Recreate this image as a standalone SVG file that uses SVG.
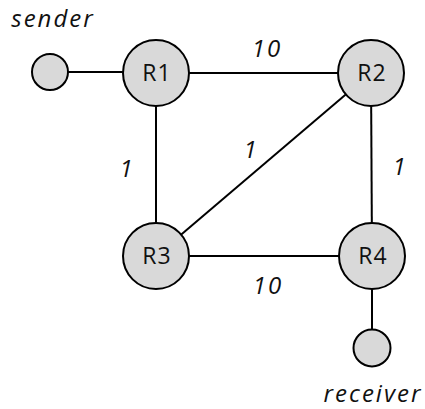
<svg xmlns="http://www.w3.org/2000/svg" width="425" height="409" viewBox="0 0 425 409">
<style>
.n{fill:#d9d9d9;stroke:#000;stroke-width:2}
.e{stroke:#000;stroke-width:2;fill:none}
.t{font-family:"Open Sans","DejaVu Sans",sans-serif;font-size:23px;letter-spacing:1px;text-anchor:middle;fill:#111}
.l{font-family:"Open Sans","DejaVu Sans",sans-serif;font-size:24px;letter-spacing:2px;font-style:italic;text-anchor:middle;fill:#111}
</style>
<rect width="425" height="409" fill="#fff"/>
<g id="connectors">
<line class="e" x1="50" y1="72" x2="156" y2="72"/>
<line class="e" x1="156" y1="73" x2="371" y2="73"/>
<line class="e" x1="156" y1="73" x2="156" y2="256"/>
<line class="e" x1="371" y1="73" x2="372" y2="256"/>
<line class="e" x1="371" y1="73" x2="156" y2="256"/>
<line class="e" x1="156" y1="256" x2="372" y2="256"/>
<line class="e" x1="372" y1="256" x2="372" y2="348"/>
</g>
<g id="sender"><circle class="n" cx="50" cy="72" r="18"/><text class="l" x="53" y="27">sender</text></g>
<g id="R1"><circle class="n" cx="156" cy="73" r="33"/><text class="t" x="157" y="81">R1</text></g>
<g id="R2"><circle class="n" cx="371" cy="73" r="33"/><text class="t" x="372" y="81">R2</text></g>
<g id="R3"><circle class="n" cx="156" cy="256" r="33"/><text class="t" x="157" y="264">R3</text></g>
<g id="R4"><circle class="n" cx="372" cy="256" r="33"/><text class="t" x="373" y="264">R4</text></g>
<g id="receiver"><circle class="n" cx="372" cy="348" r="18.5"/><text class="l" x="373" y="402">receiver</text></g>
<g id="labels">
<text class="l" x="267" y="57">10</text>
<text class="l" x="251" y="158">1</text>
<text class="l" x="400" y="175">1</text>
<text class="l" x="127" y="177">1</text>
<text class="l" x="268" y="294">10</text>
</g>
</svg>
